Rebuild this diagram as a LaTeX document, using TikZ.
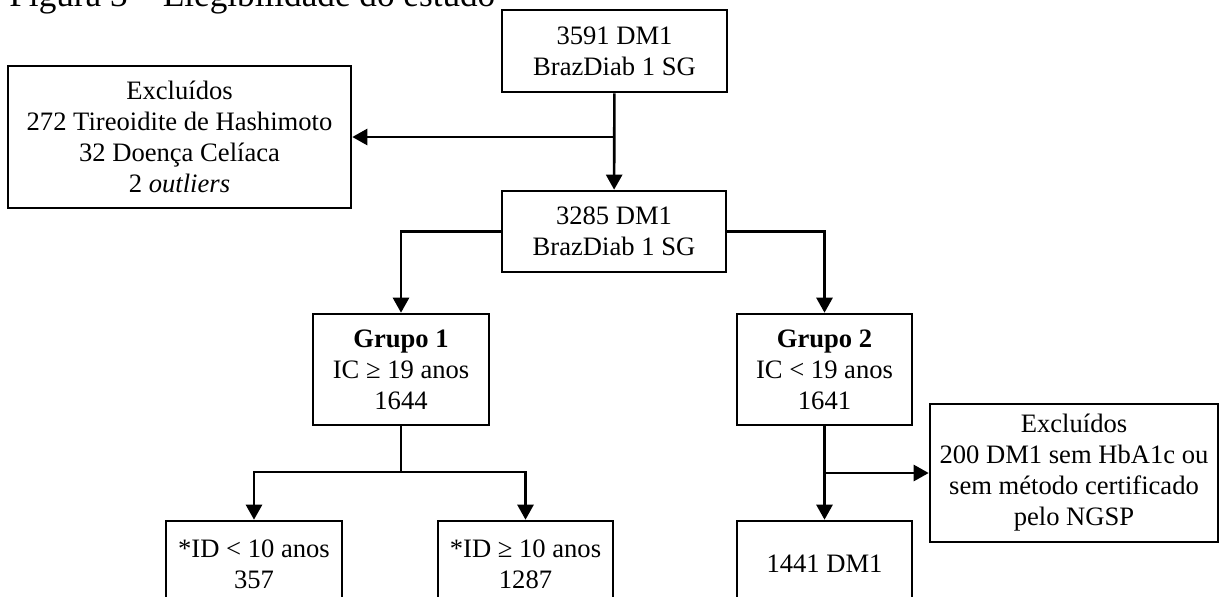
\documentclass[tikz,border=0pt]{standalone}
\usepackage{fontspec}
\setmainfont{Liberation Serif}
\usetikzlibrary{arrows.meta}

\begin{document}
\begin{tikzpicture}[x=0.5pt,y=0.5pt,yscale=-1,
  box/.style={draw,line width=1.3pt,align=center,inner sep=0pt,font=\fontsize{13.3}{15.5}\selectfont},
  conn/.style={line width=1.3pt,-{Triangle[length=7.5pt,width=8pt]}},
  plain/.style={line width=1.3pt}]

\clip (0,0) rectangle (1219,596);

\node [anchor=base west,inner sep=0pt,font=\fontsize{17.6}{20}\selectfont] (title) at (9,6) {Figura 3 – Elegibilidade do estudo};

\node [box,minimum width=112.5pt,minimum height=41pt] (total) at (614.5,51) {3591 DM1\\BrazDiab 1 SG};
\node [box,minimum width=171.5pt,minimum height=71pt] (exclA) at (179.5,137) {Excluídos\\272 Tireoidite de Hashimoto\\32 Doença Celíaca\\2 \textit{outliers}};
\node [box,minimum width=112pt,minimum height=40.5pt] (remain) at (614,231.5) {3285 DM1\\BrazDiab 1 SG};
\node [box,minimum width=88pt,minimum height=55.5pt] (grpA) at (401,369.5) {\textbf{Grupo 1}\\IC ≥ 19 anos\\1644};
\node [box,minimum width=87.5pt,minimum height=55.5pt] (grpB) at (824.5,369.5) {\textbf{Grupo 2}\\IC < 19 anos\\1641};
\node [box,minimum width=144pt,minimum height=69pt] (exclB) at (1074,473) {Excluídos\\200 DM1 sem HbA1c ou\\sem método certificado\\pelo NGSP};
\node [box,minimum width=88pt,minimum height=43pt] (idlow) at (254,564) {*ID < 10 anos\\357};
\node [box,minimum width=87.5pt,minimum height=43pt] (idhigh) at (525.5,564) {*ID ≥ 10 anos\\1287};
\node [box,minimum width=87.5pt,minimum height=43pt] (final) at (824.5,564) {1441 DM1};

\coordinate (splitA) at (401,472);

\draw [conn] (total) -- (remain);
\draw [conn] (total.south |- exclA.east) -- (exclA.east);
\draw [conn] (remain.west) -| (grpA.north);
\draw [conn] (remain.east) -| (grpB.north);
\draw [plain] (grpA.south) -- (splitA);
\draw [conn] (splitA) -| (idlow.north);
\draw [conn] (splitA) -| (idhigh.north);
\draw [conn] (grpB) -- (final);
\draw [conn] (grpB.south |- exclB.west) -- (exclB.west);

\end{tikzpicture}
\end{document}
